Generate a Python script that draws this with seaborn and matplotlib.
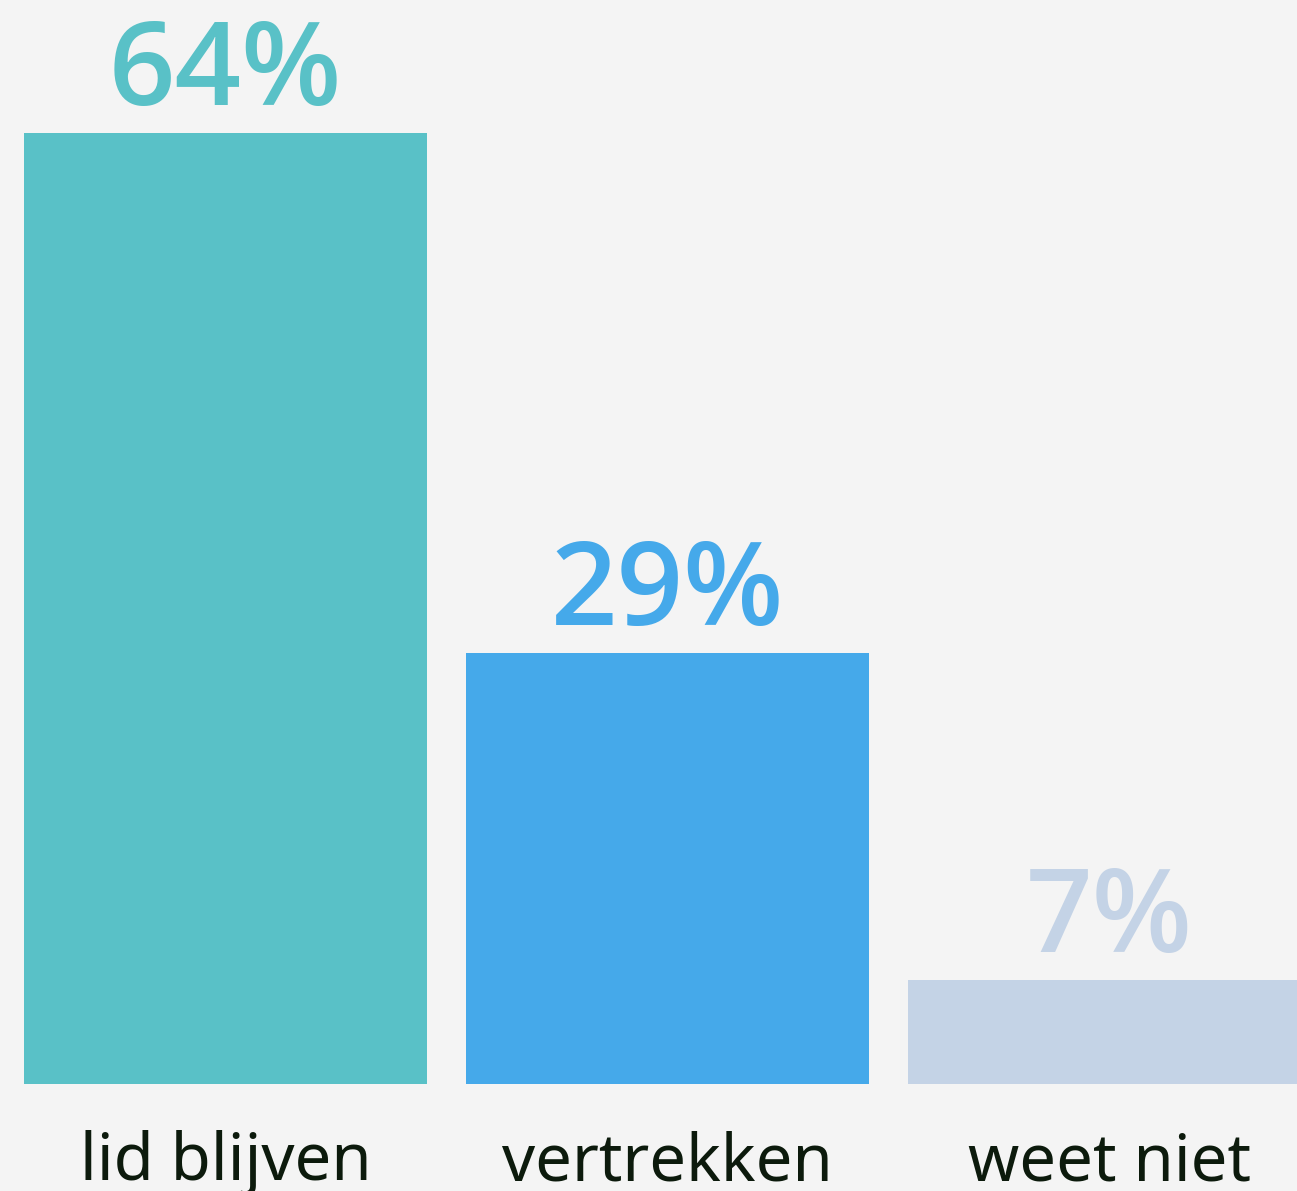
import seaborn as sns
import matplotlib.pyplot as plt
import pandas as pd

# data
categories = ["lid blijven", "vertrekken", "weet niet"]
values = [64, 29, 7]
bar_colors = ["#59c1c7", "#45a9ea", "#c4d3e6"]

df = pd.DataFrame({"cat": categories, "pct": values})

sns.set_theme(style="white")
plt.rcParams["font.family"] = ["Noto Sans", "DejaVu Sans"]

bg = "#f4f4f4"
fig = plt.figure(figsize=(12.97, 11.91), dpi=100, facecolor=bg)
ax = fig.add_axes([0, 0, 1, 1])
ax.set_facecolor(bg)

sns.barplot(data=df, x="cat", y="pct", hue="cat", palette=bar_colors,
            width=0.912, legend=False, ax=ax, saturation=1, linewidth=0)

ax.set_xlim(-0.510, 2.424)
ax.set_ylim(-7.2, 72.95)

for i, (c, v, col) in enumerate(zip(categories, values, bar_colors)):
    ax.text(i, v + 1.9, f"{v}%", ha="center", va="baseline",
            fontsize=84, color=col, fontweight=600,
            family=["Open Sans", "DejaVu Sans"])
    ax.text(i, -6.46, c, ha="center", va="baseline",
            fontsize=47, color="#0c1a0c")

ax.set_xticks([])
ax.set_yticks([])
ax.set_xlabel("")
ax.set_ylabel("")
for s in ax.spines.values():
    s.set_visible(False)

fig.savefig("out.png", dpi=100, facecolor=bg)
